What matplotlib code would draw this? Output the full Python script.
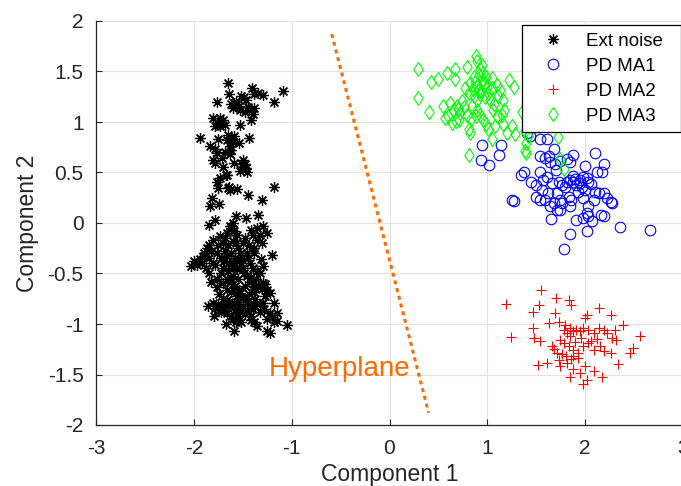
import matplotlib
matplotlib.use("Agg")
import matplotlib.pyplot as plt
from matplotlib.path import Path

plt.rcParams['font.family'] = ['Liberation Sans', 'DejaVu Sans']
plt.rcParams['axes.unicode_minus'] = False

# ---------------- data ----------------
noise_x = [
    -1.65, -1.64, -1.76, -1.59, -1.58, -1.54, -1.49, -1.47, -1.41, -1.34, -1.29, -1.18, -1.09, -1.39, -1.44,
    -1.53, -1.42, -1.53, -1.80, -1.76, -1.73, -1.70, -1.78, -1.73, -1.68, -1.94, -1.83, -1.75, -1.65, -1.63,
    -1.59, -1.54, -1.44, -1.63, -1.76, -1.78, -1.71, -1.63, -1.59, -1.51, -1.47, -1.46, -1.53, -1.66, -1.73,
    -1.76, -1.75, -1.65, -1.63, -1.56, -1.45, -1.30, -1.18, -1.81, -1.83, -1.74, -1.78, -1.85, -1.57, -1.47,
    -1.34,
    -1.62, -1.57, -1.60, -1.48, -1.45, -1.72, -1.66, -1.60, -1.62, -1.68, -1.50, -1.48, -1.70, -1.67, -1.64,
    -1.78, -1.80, -1.38, -1.52, -1.40,
    -1.63, -1.66, -1.59, -1.73, -1.80, -1.87, -1.90, -1.94, -2.00, -2.03, -1.42, -1.29, -1.25, -1.35, -1.39,
    -1.46, -1.53, -1.59, -1.66, -1.76, -1.80, -1.84, -1.20, -1.29, -1.35, -1.42, -1.49, -1.56, -1.63, -1.70,
    -1.76, -1.66, -1.59, -1.53, -1.39, -1.29, -1.25, -1.22, -1.80, -1.73, -1.66, -1.59, -1.53, -1.46, -1.39,
    -1.29, -1.18, -1.22, -1.15, -1.15, -1.05, -1.25, -1.22, -1.35, -1.42, -1.56, -1.59, -1.66, -1.71,
    -1.70, -1.65, -1.60, -1.55, -1.50, -1.62, -1.68, -1.72, -1.58, -1.52, -1.45, -1.48, -1.40, -1.35, -1.75,
    -1.82, -1.85, -1.78, -1.64, -1.56, -1.62, -1.68, -1.44, -1.38, -1.30, -1.32, -1.92, -1.97, -1.88, -1.60,
    -1.70, -1.65, -1.60, -1.55, -1.50, -1.46, -1.40, -1.36, -1.32, -1.62, -1.58, -1.54, -1.48, -1.44, -1.38,
    -1.34, -1.66, -1.72, -1.62, -1.56, -1.50, -1.30, -1.27, -1.42, -1.60, -1.52, -1.76,
    -1.75, -1.70, -1.63, -1.58, -1.55, -1.50, -1.45, -1.40, -1.35, -1.32, -1.28, -1.62, -1.55, -1.48, -1.42,
    -1.68, -1.72, -1.78, -1.52, -1.38, -1.25, -1.20, -1.18, -1.64, -1.46, -1.60, -1.57,
    -1.84, -1.90, -1.82, -1.74, -1.69, -1.57, -1.43, -1.37, -1.27, -1.31, -1.86, -1.79, -1.67, -1.53,
]
noise_y = [
    1.39, 1.28, 1.20, 1.19, 1.16, 1.16, 1.25, 1.22, 1.34, 1.29, 1.27, 1.20, 1.31, 1.14, 1.12,
    1.12, 1.02, 0.97, 1.04, 0.99, 1.04, 1.02, 0.96, 0.96, 0.97, 0.84, 0.76, 0.83, 0.87, 0.83,
    0.86, 0.79, 0.84, 0.76, 0.69, 0.59, 0.64, 0.68, 0.59, 0.58, 0.54, 0.50, 0.51, 0.48, 0.45,
    0.41, 0.35, 0.35, 0.33, 0.34, 0.28, 0.23, 0.36, 0.25, 0.17, 0.19, 0.03, -0.02, 0.07, 0.05,
    0.08,
    1.18, 1.20, 1.14, 1.10, 1.15, 1.00, 0.82, 0.80, 0.72, 0.70, 0.62, 0.58, 0.55, 0.48, 0.36,
    0.73, 0.62, 1.28, 1.26, 1.08,
    -0.03, -0.10, -0.08, -0.13, -0.17, -0.25, -0.30, -0.36, -0.38, -0.43, -0.07, -0.03, -0.10, -0.17, -0.25,
    -0.30, -0.36, -0.40, -0.33, -0.30, -0.40, -0.50, -0.32, -0.43, -0.48, -0.53, -0.50, -0.46, -0.53, -0.59,
    -0.63, -0.66, -0.63, -0.69, -0.63, -0.59, -0.66, -0.69, -0.79, -0.83, -0.76, -0.79, -0.83, -0.86, -0.81,
    -0.79, -0.79, -0.89, -0.89, -0.97, -1.01, -1.07, -1.09, -1.02, -0.96, -0.96, -1.07, -0.89, -0.86,
    -0.20, -0.22, -0.18, -0.25, -0.20, -0.30, -0.28, -0.35, -0.35, -0.30, -0.35, -0.15, -0.12, -0.05, -0.22,
    -0.28, -0.35, -0.42, -0.40, -0.12, -0.05, -0.15, -0.22, -0.30, -0.20, -0.12, -0.40, -0.42, -0.45, 0.00,
    -0.45, -0.48, -0.52, -0.55, -0.45, -0.52, -0.45, -0.55, -0.50, -0.58, -0.62, -0.66, -0.62, -0.70, -0.68,
    -0.62, -0.55, -0.50, -0.68, -0.72, -0.74, -0.65, -0.60, -0.58, -0.45, -0.40, -0.55,
    -0.80, -0.75, -0.82, -0.86, -0.78, -0.82, -0.78, -0.85, -0.80, -0.88, -0.85, -0.92, -0.92, -0.90, -0.92,
    -0.82, -0.88, -0.84, -0.98, -0.98, -0.95, -0.93, -0.98, -0.78, -0.74, -0.95, -0.98,
    -0.22, -0.33, -0.58, -0.70, -0.38, -0.20, -0.40, -0.75, -0.72, -0.36, -0.82, -0.92, -1.00, -0.88,
]

ma1_x = [
    0.95, 1.14, 0.94, 1.02, 1.12, 1.25, 1.27, 1.34, 1.37, 1.41, 1.44, 1.54, 1.61, 1.68, 1.63,
    1.64, 1.69, 1.74, 1.81, 1.85, 1.88, 2.10, 2.00, 2.19, 2.17, 2.12, 1.45, 1.50, 1.54, 1.57,
    1.61, 1.56, 1.50, 1.54, 1.59, 1.66, 1.73, 1.76, 1.81, 1.85, 1.88, 1.91, 1.95, 1.98, 2.02,
    2.03, 1.97, 1.93, 1.71, 1.74, 1.76, 1.68, 1.64, 1.71, 1.74, 1.83, 1.86, 1.85, 1.98, 2.03,
    2.02, 2.09, 2.10, 2.14, 2.19, 2.22, 2.26, 2.27, 2.03, 1.98, 1.91, 2.07, 2.16, 2.19, 1.65,
    1.85, 2.02, 1.78, 2.36, 2.66, 1.54, 1.59,
    1.79, 1.90, 1.95, 2.06, 1.70, 1.62, 2.00, 1.88,
]
ma1_y = [
    0.77, 0.77, 0.62, 0.57, 0.67, 0.23, 0.22, 0.48, 0.50, 0.89, 0.86, 0.83, 0.83, 0.73, 0.66,
    0.60, 0.58, 0.61, 0.63, 0.60, 0.67, 0.69, 0.56, 0.58, 0.50, 0.50, 0.41, 0.38, 0.50, 0.43,
    0.46, 0.33, 0.26, 0.23, 0.23, 0.40, 0.41, 0.38, 0.41, 0.43, 0.41, 0.38, 0.43, 0.46, 0.45,
    0.41, 0.36, 0.31, 0.30, 0.23, 0.20, 0.20, 0.17, 0.13, 0.13, 0.26, 0.23, 0.17, 0.25, 0.17,
    0.10, 0.23, 0.31, 0.30, 0.30, 0.25, 0.21, 0.20, 0.07, 0.05, 0.03, 0.02, 0.08, 0.07, 0.04,
    -0.11, -0.08, -0.26, -0.04, -0.07, 0.66, 0.64,
    0.36, 0.44, 0.40, 0.39, 0.52, 0.30, 0.33, 0.47,
]

ma2_x = [
    1.19, 1.24, 1.55, 1.53, 1.47, 1.70, 1.69, 1.83, 1.86, 2.02, 2.00, 2.14, 2.26, 2.39, 2.56,
    1.47, 1.48, 1.54, 1.63, 1.73, 1.78, 1.81, 1.85, 1.88, 1.91, 1.95, 1.98, 2.03, 2.09, 2.14,
    2.19, 2.22, 2.27, 2.31, 2.32, 1.66, 1.74, 1.78, 1.83, 1.88, 1.93, 1.98, 2.03, 2.09, 2.15,
    2.19, 2.26, 2.46, 2.49, 2.34, 1.52, 1.61, 1.73, 1.74, 1.81, 1.88, 1.85, 1.95, 2.00, 2.02,
    1.98, 2.09, 2.17, 1.68, 1.71, 1.76, 1.80, 1.88, 1.93,
    1.84, 1.96, 2.06, 1.79, 1.90, 2.12, 1.86,
]
ma2_y = [
    -0.80, -1.13, -0.66, -0.81, -0.88, -0.74, -0.89, -0.76, -0.81, -0.91, -0.94, -0.84, -0.91, -1.01, -1.12,
    -1.04, -1.14, -1.17, -0.99, -0.98, -1.06, -1.09, -1.04, -1.07, -1.06, -1.07, -1.04, -1.06, -1.09, -1.04,
    -1.06, -1.09, -1.14, -1.06, -1.16, -1.22, -1.16, -1.19, -1.22, -1.26, -1.29, -1.22, -1.19, -1.26, -1.22,
    -1.27, -1.29, -1.29, -1.24, -1.40, -1.41, -1.39, -1.36, -1.42, -1.39, -1.45, -1.52, -1.49, -1.42, -1.55,
    -1.59, -1.47, -1.52, -1.25, -1.29, -1.30, -1.32, -1.32, -1.34,
    -1.12, -1.14, -1.17, -1.01, -1.18, -1.15, -1.35,
]

ma3_x = [
    0.29, 0.29, 0.40, 0.42, 0.50, 0.59, 0.67, 0.67, 0.79, 0.88, 0.89, 0.93, 0.96, 0.99, 0.86,
    0.82, 0.89, 0.77, 0.81, 0.86, 0.89, 1.05, 1.10, 1.13, 1.11, 1.16, 1.22, 1.27, 1.05, 0.55,
    0.62, 0.65, 0.69, 0.72, 0.60, 0.57, 0.64, 0.71, 0.81, 0.82, 0.89, 0.93, 0.96, 0.99, 1.01,
    1.06, 1.10, 1.17, 1.15, 1.08, 1.16, 1.25, 1.20, 1.28, 1.05, 0.81, 1.35, 1.39, 1.42, 1.40,
    1.39, 1.40, 1.72, 1.74, 1.78, 0.96, 0.94, 1.01, 1.03, 0.84, 0.88, 0.79,
    0.91, 0.85, 0.97, 0.92, 0.87, 0.74, 0.70, 1.00, 0.95, 1.07, 0.83, 0.90, 0.98, 0.76, 0.68,
]
ma3_y = [
    1.52, 1.24, 1.10, 1.40, 1.43, 1.49, 1.52, 1.43, 1.54, 1.65, 1.60, 1.52, 1.49, 1.45, 1.45,
    1.39, 1.36, 1.34, 1.29, 1.26, 1.22, 1.34, 1.37, 1.32, 1.26, 1.22, 1.42, 1.35, 1.44, 1.16,
    1.19, 1.12, 1.16, 1.09, 1.06, 1.04, 0.99, 1.02, 0.93, 0.89, 1.12, 1.07, 1.02, 0.98, 0.93,
    1.12, 1.06, 1.12, 1.07, 0.96, 0.98, 0.96, 0.89, 0.88, 0.83, 0.67, 1.10, 0.91, 0.86, 0.79,
    0.71, 0.69, 0.85, 0.63, 0.53, 1.42, 1.31, 1.29, 1.22, 1.16, 1.06, 1.07,
    1.47, 1.33, 1.38, 1.28, 1.40, 1.21, 1.13, 1.35, 1.56, 1.18, 1.03, 1.32, 1.25, 1.15, 1.01,
]

hyper_x = [-0.59, 0.40]
hyper_y = [1.87, -1.88]

x_ticks = [-3, -2, -1, 0, 1, 2, 3]
y_ticks = [-2, -1.5, -1, -0.5, 0, 0.5, 1, 1.5, 2]
y_ticklabels = ['-2', '-1.5', '-1', '-0.5', '0', '0.5', '1', '1.5', '2']

# ---------------- figure ----------------
W, H = 681, 486
fig = plt.figure(figsize=(W / 100, H / 100), dpi=100)
ax = fig.add_axes([96 / W, 61 / H, 587 / W, 404 / H])

axcol = '#262626'
diamond = Path([(0, 1), (0.68, 0), (0, -1), (-0.68, 0), (0, 1)],
               [Path.MOVETO, Path.LINETO, Path.LINETO, Path.LINETO, Path.CLOSEPOLY])

ax.plot(noise_x, noise_y, linestyle='none', marker=(8, 2, 0), ms=7.8, mew=0.9,
        color='black', label='Ext noise')
ax.plot(ma1_x, ma1_y, linestyle='none', marker='o', ms=7.6, mew=0.8,
        mfc='none', mec='#0000ff', label='PD MA1')
ax.plot(ma2_x, ma2_y, linestyle='none', marker='+', ms=7.5, mew=0.8,
        color='#ff0000', label='PD MA2')
ax.plot(ma3_x, ma3_y, linestyle='none', marker=diamond, ms=10, mew=0.8,
        mfc='none', mec='#00ff00', label='PD MA3')

ax.plot(hyper_x, hyper_y, color='#ff6a00', lw=2.2, linestyle=(0, (1.3, 1.3)),
        solid_capstyle='butt', dash_capstyle='butt')
ax.text(-1.235, -1.51, 'Hyperplane', color='#ff6a00', fontsize=20,
        ha='left', va='baseline')

ax.set_xlim(-3, 3)
ax.set_ylim(-2, 2)
ax.set_xticks(x_ticks)
ax.set_yticks(y_ticks)
ax.set_yticklabels(y_ticklabels)
ax.grid(True, color='#e3e3e3', lw=0.8)
ax.set_axisbelow(True)

for s in ['top', 'right']:
    ax.spines[s].set_visible(False)
for s in ['left', 'bottom']:
    ax.spines[s].set_color(axcol)
    ax.spines[s].set_linewidth(0.9)

ax.tick_params(axis='both', direction='in', length=4.5, width=0.8, color=axcol,
               labelcolor=axcol, labelsize=15)
ax.tick_params(axis='x', pad=10)
ax.tick_params(axis='y', pad=9)

ax.set_xlabel('Component 1', fontsize=16.5, color=axcol, labelpad=3.5)
ax.set_ylabel('Component 2', fontsize=16.5, color=axcol, labelpad=6)

leg = ax.legend(loc='upper left', bbox_to_anchor=(522 / W, 1 - 25 / H - 0.01, 159 / W, 0.01),
                bbox_transform=fig.transFigure, mode='expand', borderaxespad=0,
                fontsize=13.5, frameon=True, fancybox=False, edgecolor='black',
                framealpha=1, handlelength=2.5, handletextpad=0.5, labelspacing=0.42,
                borderpad=0.4, numpoints=1)
leg.get_frame().set_linewidth(0.9)

fig.savefig('out.png', dpi=100)
